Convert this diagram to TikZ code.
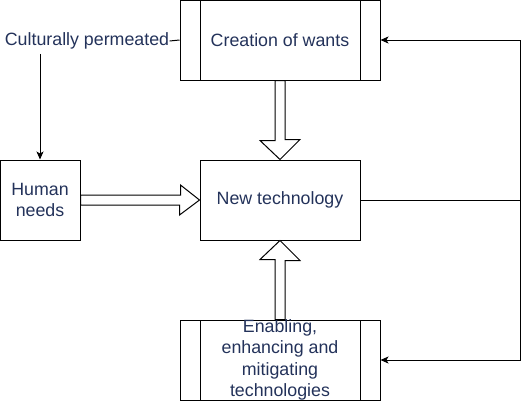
\documentclass[tikz,border=0pt]{standalone}
\usepackage{fontspec}
\setmainfont{Liberation Sans}
\usetikzlibrary{calc,positioning,arrows.meta}
\definecolor{txtblue}{RGB}{35,50,90}
\begin{document}
\begin{tikzpicture}[x=1pt,y=-1pt,line width=1pt,>={Stealth[length=8pt,width=7pt,inset=2pt]},
    every node/.style={text=txtblue,font=\fontsize{17.8}{21.5}\selectfont,align=center,inner sep=0pt},
    plainbox/.style={draw=black,minimum width=160pt,minimum height=80pt},
    procbox/.style={draw=black,minimum width=200pt,minimum height=80pt,
        path picture={\draw ([xshift=20pt]path picture bounding box.north west) -- ([xshift=20pt]path picture bounding box.south west);
                      \draw ([xshift=-20pt]path picture bounding box.north east) -- ([xshift=-20pt]path picture bounding box.south east);}},
    blockarrow/.style={draw=black,fill=white,line join=miter}]

    \useasboundingbox (0,0) rectangle (529,402);

    \node[procbox] (wants) at (280,40) {Creation of wants};
    \node[plainbox] (tech) at (280,200) {New technology};
    \node[plainbox,minimum width=80pt] (needs) at (40,200) {Human\\needs};
    \node[procbox,label={center:{Enabling,\\enhancing and\\mitigating\\technologies}}] (enab) at (280,360) {};
    \node (cult) at (87,41) {Culturally permeated};
    \coordinate (loop) at (520,200);

    \draw (cult.east) -- (wants.west);
    \draw[->] (cult.south -| needs.north) ++(0,4) -- (needs.north);
    \draw (tech.east) -- (loop);
    \draw[->] (loop) |- (wants.east);
    \draw[->] (loop) |- (enab.east);

    \draw[blockarrow] ($(wants.south)+(-5,0)$) -- ++(0,60) -- ++(-15,0) -- (tech.north) -- ++(20,-20) -- ++(-15,0) -- ($(wants.south)+(5,0)$) -- cycle;
    \draw[blockarrow] ($(enab.north)+(-5,0)$) -- ++(0,-60) -- ++(-15,0) -- (tech.south) -- ++(20,20) -- ++(-15,0) -- ($(enab.north)+(5,0)$) -- cycle;
    \draw[blockarrow] ($(needs.east)+(0,-5)$) -- ++(100,0) -- ++(0,-10) -- (tech.west) -- ++(-20,15) -- ++(0,-10) -- ($(needs.east)+(0,5)$) -- cycle;

\end{tikzpicture}
\end{document}
